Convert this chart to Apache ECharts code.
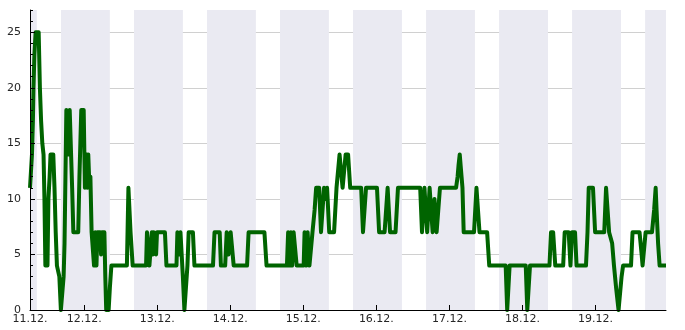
<!DOCTYPE html>
<html>
<head>
<meta charset="utf-8">
<script src="https://cdn.jsdelivr.net/npm/echarts@6/dist/echarts.min.js"></script>
<style>
html,body{margin:0;padding:0;background:#fff;}
#chart{width:685px;height:330px;}
</style>
</head>
<body>
<div id="chart"></div>
<script>
// time in hours since 11.12. 00:00
const hours = [6.15,6.5,6.8,7.1,7.3,7.6,8.0,9.0,9.4,9.8,10.2,10.6,10.9,11.2,11.9,12.2,12.6,12.9,13.8,14.2,
14.6,15.0,15.8,16.3,16.8,17.2,17.5,17.8,18.1,18.6,18.9,19.2,19.7,20.0,20.4,22.0,22.4,22.7,23.0,23.8,
24.2,24.7,25.0,25.3,25.7,26.0,26.4,26.9,27.2,27.6,28.0,28.3,29.2,29.5,29.8,30.6,30.9,31.2,32.0,32.4,
32.9,38.0,38.5,38.9,39.2,39.5,39.9,44.3,44.6,45.0,45.4,45.8,46.2,46.5,46.8,47.2,47.6,47.9,50.5,51.0,
54.3,54.6,55.0,55.3,55.6,56.0,56.4,56.9,57.4,57.9,58.3,59.7,60.2,66.3,66.8,68.5,68.9,70.3,70.8,71.4,
72.1,72.6,73.1,77.5,78.0,83.2,83.9,90.6,91.0,91.5,91.9,92.3,92.8,93.3,93.8,96.1,96.4,96.9,97.4,98.0,
98.5,99.0,99.7,100.2,101.2,101.8,102.1,102.8,103.3,103.8,104.5,106.1,106.9,107.4,107.9,108.4,108.9,109.4,109.9,110.7,
111.4,115.0,115.6,116.1,116.6,120.2,120.9,122.7,123.7,124.5,126.3,127.1,134.4,135.0,135.8,136.7,137.5,138.5,139.1,139.8,
140.3,140.9,146.2,146.7,147.0,147.4,147.7,148.0,148.3,148.7,152.1,152.9,153.3,153.9,156.4,157.1,162.5,163.0,163.3,163.8,
169.1,169.6,170.0,170.5,176.9,177.4,178.1,178.8,181.4,181.9,183.2,183.8,184.3,185.3,185.8,188.9,189.4,189.8,191.2,191.9,
194.9,195.5,196.0,196.5,197.0,197.5,198.1,198.8,199.6,200.1,200.6,201.1,203.7,204.2,206.5,207.2,207.5,208.0,208.5,210.6,
211.3,211.8,212.1,212.6,213.1,215.2];
// wind speed (km/h)
const kmh = [11,11,14,17,20,23,25,25,20,17,15,14,10,4,4,10,12,14,14,11,
7,4,3,0,0,3,6,12,18,18,14,18,18,11,7,7,12,15,18,18,
11,14,11,14,11,12,7,7,4,7,4,7,7,5,7,7,3,0,0,2,
4,4,11,11,7,7,4,4,7,7,4,4,7,5,7,7,5,7,7,4,
4,7,7,5,7,7,3,0,0,4,7,7,4,4,7,7,4,4,7,5,
7,7,4,4,7,7,4,4,7,4,7,4,7,7,4,4,7,4,7,4,
4,7,9,11,11,7,7,11,10,11,7,7,11,11,14,14,11,11,14,14,
11,11,7,7,11,11,7,7,11,7,7,11,11,7,11,7,11,7,10,7,
7,11,11,12,13,14,14,12,11,7,7,11,11,7,7,4,4,0,0,4,
4,0,0,4,4,7,7,4,4,7,7,4,7,7,4,4,7,11,11,7,
7,11,11,7,7,6,4,2,0,0,3,4,4,7,7,5,4,4,7,7,
9,11,9,6,4,4];

const xMin = 6.15, xMax = 215.2;
const dayTicks = [24,48,72,96,120,144,168,192];
const labelValues = [6.15,24,48,72,96,120,144,168,192];
const firstDay = 11;
const yMajor = [0,5,10,15,20,25];
const yMinor = [0,1,2,3,4,5,6,7,8,9,10,11,12,13,14,15,16,17,18,19,20,21,22,23,24,25,26,27];
// night (dark) periods: sunset / sunrise in hours of day
const sunset = 16.33, sunrise = 8.4;
const nightDays = [-1,0,1,2,3,4,5,6,7,8];

const bands = nightDays.map(d => [Math.max(xMin, d*24 + sunset), Math.min(xMax, (d+1)*24 + sunrise)])
  .filter(b => b[1] > b[0]);

const chart = echarts.init(document.getElementById('chart'), null, {renderer:'canvas'});
const font = 'DejaVu Sans';
const gridColor = '#d0d0d0';
const hidden = {axisLine:{show:false},axisTick:{show:false},axisLabel:{show:false}};
chart.setOption({
  animation:false,
  grid:{left:30,right:19,top:10,bottom:20,containLabel:false},
  xAxis:[{
    type:'value', min:xMin, max:xMax, z:10,
    axisLine:{show:true,lineStyle:{color:'#000',width:1}},
    axisTick:{show:true,inside:true,length:5,customValues:dayTicks,lineStyle:{color:'#000'}},
    axisLabel:{customValues:labelValues,margin:4,color:'#262626',fontFamily:font,fontSize:11,
      formatter:v=>(firstDay+Math.floor(v/24+1e-6))+'.12.'},
    splitLine:{show:false}
  },{
    type:'value', min:xMin, max:xMax, z:0, position:'bottom',
    ...hidden,
    axisTick:{show:false,customValues:dayTicks},
    splitLine:{show:true,lineStyle:{color:gridColor,width:1}}
  }],
  yAxis:[{
    type:'value', min:0, max:27, z:10,
    axisLine:{show:true,lineStyle:{color:'#000',width:1}},
    axisTick:{show:true,inside:true,length:5,customValues:yMajor,lineStyle:{color:'#000'}},
    axisLabel:{customValues:yMajor,margin:9,color:'#262626',fontFamily:font,fontSize:11},
    splitLine:{show:false}
  },{
    type:'value', min:0, max:27, position:'left', offset:0, z:10,
    axisLine:{show:false},
    axisTick:{show:true,inside:true,length:3,customValues:yMinor,lineStyle:{color:'#000'}},
    axisLabel:{show:false},
    splitLine:{show:false}
  },{
    type:'value', min:0, max:27, position:'left', offset:0, z:0,
    ...hidden,
    axisTick:{show:false,customValues:[5,10,15,20,25]},
    splitLine:{show:true,lineStyle:{color:gridColor,width:1}}
  }],
  series:[{
    type:'line', data:[], z:-1, silent:true,
    markArea:{silent:true,itemStyle:{color:'#EAEAF2'},
      data:bands.map(b=>[{xAxis:b[0]},{xAxis:b[1]}])}
  },{
    type:'line',
    data:hours.map((h,i)=>[h,kmh[i]]),
    showSymbol:false, symbol:'none',
    lineStyle:{color:'#006400',width:4,join:'round'},
    z:3
  }]
});
</script>
</body>
</html>
